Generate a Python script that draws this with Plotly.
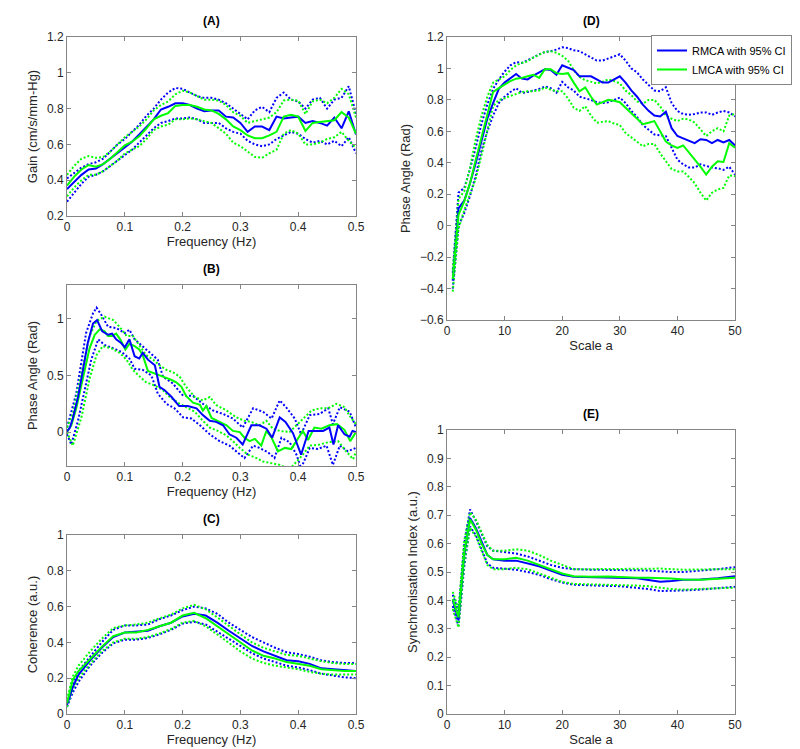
import plotly.graph_objects as go

# ---- panel A : gain vs frequency ----
freq_a = [0, 0.0125, 0.025, 0.0375, 0.05, 0.0625, 0.075, 0.0875, 0.1, 0.1125, 0.125, 0.1375, 0.15, 0.1625,
          0.175, 0.1875, 0.2, 0.2125, 0.225, 0.2375, 0.25, 0.2625, 0.275, 0.2875, 0.3, 0.3125, 0.325, 0.3375,
          0.35, 0.3625, 0.375, 0.3875, 0.4, 0.4125, 0.425, 0.4375, 0.45, 0.4625, 0.475, 0.4875, 0.5]
gain_r = [0.35, 0.39, 0.43, 0.46, 0.465, 0.49, 0.52, 0.55, 0.585, 0.615, 0.655, 0.695, 0.74, 0.795, 0.81, 0.83,
          0.83, 0.82, 0.80, 0.785, 0.79, 0.79, 0.755, 0.75, 0.72, 0.67, 0.70, 0.70, 0.68, 0.755, 0.745, 0.75,
          0.755, 0.72, 0.73, 0.72, 0.705, 0.75, 0.69, 0.785, 0.655]
gain_l = [0.37, 0.42, 0.46, 0.485, 0.475, 0.49, 0.52, 0.555, 0.595, 0.615, 0.645, 0.69, 0.74, 0.76, 0.775, 0.815,
          0.82, 0.82, 0.81, 0.795, 0.79, 0.77, 0.74, 0.70, 0.68, 0.65, 0.635, 0.635, 0.65, 0.67, 0.755, 0.765,
          0.755, 0.675, 0.72, 0.725, 0.73, 0.735, 0.78, 0.75, 0.66]
gain_r_hi = [0.41, 0.44, 0.47, 0.49, 0.50, 0.52, 0.56, 0.60, 0.63, 0.67, 0.71, 0.76, 0.80, 0.85, 0.89, 0.915,
             0.91, 0.89, 0.87, 0.86, 0.86, 0.85, 0.83, 0.80, 0.77, 0.74, 0.79, 0.81, 0.78, 0.86, 0.89, 0.85,
             0.84, 0.80, 0.85, 0.86, 0.80, 0.85, 0.86, 0.925, 0.77]
gain_r_lo = [0.28, 0.33, 0.38, 0.42, 0.43, 0.45, 0.48, 0.51, 0.54, 0.57, 0.61, 0.65, 0.69, 0.72, 0.73, 0.745,
             0.745, 0.75, 0.74, 0.72, 0.72, 0.72, 0.69, 0.67, 0.66, 0.62, 0.60, 0.59, 0.60, 0.63, 0.65, 0.67,
             0.66, 0.63, 0.61, 0.62, 0.60, 0.62, 0.59, 0.64, 0.55]
gain_l_hi = [0.43, 0.48, 0.52, 0.535, 0.525, 0.53, 0.56, 0.60, 0.64, 0.67, 0.70, 0.74, 0.79, 0.82, 0.84, 0.88,
             0.90, 0.89, 0.87, 0.85, 0.85, 0.845, 0.82, 0.78, 0.76, 0.72, 0.73, 0.74, 0.75, 0.78, 0.845, 0.85,
             0.845, 0.77, 0.84, 0.85, 0.83, 0.86, 0.91, 0.88, 0.75]
gain_l_lo = [0.31, 0.36, 0.40, 0.43, 0.43, 0.45, 0.48, 0.51, 0.55, 0.57, 0.59, 0.63, 0.68, 0.70, 0.71, 0.74,
             0.74, 0.745, 0.74, 0.73, 0.72, 0.69, 0.66, 0.61, 0.59, 0.56, 0.53, 0.525, 0.55, 0.57, 0.66, 0.68,
             0.66, 0.60, 0.60, 0.61, 0.63, 0.64, 0.67, 0.62, 0.58]

# ---- panel B : phase vs frequency ----
freq_b_r = [0, 0.005, 0.010, 0.019, 0.028, 0.036, 0.045, 0.052, 0.061, 0.071, 0.078, 0.085, 0.093, 0.100, 0.108,
            0.117, 0.125, 0.131, 0.140, 0.152, 0.160, 0.169, 0.181, 0.194, 0.209, 0.224, 0.235, 0.247, 0.258,
            0.270, 0.281, 0.293, 0.304, 0.319, 0.333, 0.345, 0.355, 0.368, 0.378, 0.391, 0.405, 0.418, 0.431,
            0.443, 0.454, 0.461, 0.469, 0.480, 0.489, 0.494, 0.5]
phase_r = [0.005, 0.04, 0.12, 0.31, 0.56, 0.79, 0.96, 0.99, 0.89, 0.86, 0.87, 0.82, 0.79, 0.75, 0.82, 0.67, 0.65,
           0.70, 0.64, 0.59, 0.40, 0.37, 0.31, 0.23, 0.23, 0.21, 0.15, 0.10, 0.09, 0.06, -0.02, -0.05, -0.11,
           0.06, 0.06, 0.03, -0.05, 0.13, 0.09, -0.01, -0.20, 0.01, 0.01, 0.01, 0.04, -0.11, 0.06, -0.02, -0.04,
           0.01, 0.0]
freq_b_l = [0, 0.0075, 0.016, 0.028, 0.039, 0.048, 0.057, 0.065, 0.071, 0.078, 0.085, 0.092, 0.101, 0.108, 0.117,
            0.125, 0.131, 0.140, 0.152, 0.166, 0.181, 0.189, 0.198, 0.206, 0.218, 0.230, 0.235, 0.241, 0.250,
            0.261, 0.276, 0.287, 0.299, 0.307, 0.316, 0.325, 0.336, 0.345, 0.354, 0.365, 0.377, 0.388, 0.397,
            0.408, 0.417, 0.428, 0.440, 0.454, 0.467, 0.480, 0.490, 0.5]
phase_l = [0.0, 0.06, 0.21, 0.49, 0.74, 0.86, 0.91, 0.89, 0.85, 0.85, 0.87, 0.82, 0.73, 0.78, 0.76, 0.73, 0.68,
           0.54, 0.52, 0.49, 0.46, 0.44, 0.40, 0.32, 0.26, 0.24, 0.19, 0.23, 0.125, 0.10, 0.06, 0.01, 0.0, -0.05,
           -0.08, -0.06, -0.12, 0.01, -0.05, -0.17, -0.14, -0.15, -0.08, 0.01, -0.07, 0.04, 0.03, 0.06, 0.07,
           0.02, -0.08, 0.0]
freq_b_r_hi = [0, 0.016, 0.033, 0.045, 0.051, 0.059, 0.071, 0.085, 0.100, 0.108, 0.117, 0.131, 0.143, 0.157,
               0.166, 0.183, 0.201, 0.218, 0.235, 0.253, 0.270, 0.287, 0.304, 0.322, 0.339, 0.354, 0.368, 0.379,
               0.394, 0.405, 0.420, 0.437, 0.452, 0.460, 0.472, 0.489, 0.5]
phase_r_hi = [0.04, 0.34, 0.875, 1.05, 1.10, 1.04, 0.93, 0.92, 0.875, 0.905, 0.82, 0.76, 0.70, 0.64, 0.49, 0.43,
              0.32, 0.32, 0.25, 0.19, 0.16, 0.12, 0.04, 0.21, 0.18, 0.12, 0.28, 0.22, 0.12, -0.02, 0.15, 0.16,
              0.21, 0.07, 0.22, 0.18, 0.04]
freq_b_r_lo = [0, 0.0075, 0.019, 0.031, 0.042, 0.054, 0.065, 0.080, 0.094, 0.108, 0.117, 0.131, 0.146, 0.157,
               0.172, 0.186, 0.201, 0.215, 0.230, 0.247, 0.264, 0.281, 0.293, 0.307, 0.322, 0.333, 0.348, 0.359,
               0.371, 0.385, 0.397, 0.405, 0.420, 0.434, 0.449, 0.460, 0.472, 0.486, 0.5]
phase_r_lo = [-0.02, -0.11, 0.10, 0.37, 0.64, 0.82, 0.77, 0.74, 0.71, 0.65, 0.56, 0.55, 0.50, 0.34, 0.25, 0.21,
              0.13, 0.12, 0.06, -0.02, -0.08, -0.12, -0.17, -0.23, -0.12, -0.14, -0.18, -0.23, -0.05, -0.09,
              -0.20, -0.32, -0.14, -0.15, -0.12, -0.29, -0.12, -0.17, -0.14]
freq_b_l_hi = [0, 0.010, 0.025, 0.039, 0.051, 0.065, 0.080, 0.091, 0.103, 0.114, 0.126, 0.137, 0.149, 0.160,
               0.172, 0.183, 0.195, 0.206, 0.221, 0.235, 0.247, 0.258, 0.276, 0.293, 0.307, 0.319, 0.333, 0.345,
               0.356, 0.368, 0.385, 0.397, 0.408, 0.423, 0.437, 0.452, 0.466, 0.480, 0.492, 0.5]
phase_l_hi = [0.04, 0.16, 0.52, 0.85, 0.98, 1.02, 0.99, 0.93, 0.85, 0.85, 0.76, 0.68, 0.64, 0.59, 0.55, 0.53,
              0.49, 0.40, 0.31, 0.28, 0.31, 0.24, 0.19, 0.13, 0.10, 0.09, 0.06, 0.10, 0.03, 0.01, 0.0, 0.06, 0.12,
              0.19, 0.21, 0.21, 0.25, 0.22, 0.12, 0.07]
freq_b_l_lo = [0, 0.010, 0.025, 0.039, 0.051, 0.062, 0.077, 0.091, 0.103, 0.114, 0.126, 0.137, 0.152, 0.166,
               0.178, 0.195, 0.206, 0.221, 0.235, 0.247, 0.261, 0.276, 0.287, 0.299, 0.313, 0.328, 0.339, 0.351,
               0.368, 0.385, 0.397, 0.408, 0.420, 0.437, 0.452, 0.469, 0.483, 0.495, 0.5]
phase_l_lo = [0.0, -0.12, 0.13, 0.47, 0.68, 0.76, 0.74, 0.70, 0.64, 0.55, 0.49, 0.44, 0.41, 0.37, 0.31, 0.25,
              0.22, 0.18, 0.10, 0.04, 0.01, -0.03, -0.08, -0.14, -0.20, -0.23, -0.26, -0.27, -0.29, -0.33, -0.26,
              -0.20, -0.12, -0.11, -0.09, -0.08, -0.17, -0.24, -0.17]

# ---- panel C : coherence vs frequency ----
freq_c = [0, 0.01, 0.02, 0.04, 0.06, 0.08, 0.1, 0.12, 0.14, 0.16, 0.18, 0.2, 0.22, 0.24, 0.26, 0.28, 0.3, 0.32,
          0.34, 0.36, 0.38, 0.4, 0.42, 0.44, 0.46, 0.48, 0.5]
coh_r = [0.05, 0.15, 0.22, 0.30, 0.37, 0.43, 0.455, 0.46, 0.465, 0.49, 0.51, 0.545, 0.56, 0.55, 0.51, 0.465, 0.42,
         0.38, 0.35, 0.325, 0.30, 0.295, 0.28, 0.255, 0.25, 0.245, 0.24]
coh_l = [0.06, 0.19, 0.24, 0.31, 0.375, 0.435, 0.455, 0.455, 0.47, 0.49, 0.51, 0.55, 0.565, 0.535, 0.49, 0.445,
         0.40, 0.355, 0.325, 0.31, 0.29, 0.28, 0.27, 0.25, 0.245, 0.24, 0.24]
coh_r_hi = [0.06, 0.17, 0.24, 0.32, 0.40, 0.47, 0.495, 0.495, 0.50, 0.53, 0.55, 0.58, 0.60, 0.59, 0.56, 0.51, 0.47,
            0.43, 0.40, 0.37, 0.345, 0.335, 0.32, 0.30, 0.29, 0.285, 0.285]
coh_l_hi = [0.08, 0.21, 0.27, 0.35, 0.42, 0.48, 0.495, 0.50, 0.51, 0.535, 0.555, 0.59, 0.61, 0.585, 0.54, 0.49,
            0.445, 0.40, 0.37, 0.35, 0.33, 0.325, 0.31, 0.295, 0.285, 0.28, 0.28]
coh_r_lo = [0.04, 0.12, 0.18, 0.27, 0.34, 0.395, 0.415, 0.415, 0.425, 0.445, 0.47, 0.505, 0.515, 0.50, 0.46, 0.42,
            0.38, 0.34, 0.31, 0.29, 0.27, 0.26, 0.245, 0.225, 0.215, 0.205, 0.20]
coh_l_lo = [0.04, 0.14, 0.20, 0.28, 0.35, 0.40, 0.42, 0.42, 0.43, 0.45, 0.475, 0.51, 0.52, 0.49, 0.445, 0.395,
            0.35, 0.31, 0.285, 0.27, 0.26, 0.25, 0.235, 0.225, 0.22, 0.22, 0.22]

# ---- panel D : phase vs scale ----
scale_d = list(range(1, 51))
phd_r = [-0.35, 0.11, 0.16, 0.27, 0.40, 0.55, 0.68, 0.78, 0.87, 0.91, 0.935, 0.965, 0.935, 0.93, 0.955, 0.975,
         0.995, 0.99, 0.96, 1.02, 1.005, 0.99, 0.95, 0.95, 0.95, 0.93, 0.91, 0.91, 0.93, 0.95, 0.91, 0.86, 0.82,
         0.77, 0.73, 0.70, 0.695, 0.725, 0.62, 0.57, 0.555, 0.54, 0.525, 0.55, 0.545, 0.525, 0.545, 0.53, 0.545,
         0.51]
phd_l = [-0.34, 0.07, 0.155, 0.27, 0.42, 0.57, 0.70, 0.85, 0.875, 0.90, 0.92, 0.935, 0.94, 0.95, 0.96, 0.94,
         0.995, 0.995, 0.97, 0.965, 0.97, 0.91, 0.855, 0.88, 0.82, 0.77, 0.785, 0.80, 0.795, 0.785, 0.75, 0.715,
         0.68, 0.645, 0.655, 0.665, 0.60, 0.535, 0.51, 0.495, 0.51, 0.465, 0.425, 0.375, 0.325, 0.375, 0.41,
         0.405, 0.525, 0.495]
phd_r_hi = [-0.30, 0.21, 0.24, 0.36, 0.50, 0.65, 0.77, 0.87, 0.93, 0.98, 1.02, 1.04, 1.035, 1.05, 1.07, 1.09,
            1.105, 1.11, 1.12, 1.135, 1.13, 1.115, 1.11, 1.09, 1.07, 1.05, 1.05, 1.065, 1.075, 1.09, 1.05, 1.00,
            0.975, 0.93, 0.895, 0.86, 0.855, 0.88, 0.78, 0.73, 0.71, 0.705, 0.71, 0.72, 0.72, 0.705, 0.72, 0.73,
            0.72, 0.695]
phd_r_lo = [-0.40, 0.0, 0.08, 0.19, 0.32, 0.48, 0.60, 0.70, 0.78, 0.82, 0.85, 0.875, 0.845, 0.85, 0.86, 0.87,
            0.885, 0.875, 0.845, 0.915, 0.88, 0.86, 0.82, 0.81, 0.80, 0.785, 0.78, 0.785, 0.80, 0.815, 0.78, 0.73,
            0.69, 0.64, 0.61, 0.58, 0.575, 0.57, 0.495, 0.42, 0.39, 0.37, 0.37, 0.39, 0.38, 0.37, 0.365, 0.355,
            0.375, 0.325]
phd_l_hi = [-0.28, 0.17, 0.22, 0.37, 0.55, 0.70, 0.82, 0.91, 0.93, 0.95, 0.99, 1.02, 1.035, 1.045, 1.07, 1.09,
            1.105, 1.11, 1.10, 1.08, 1.05, 0.99, 0.945, 0.925, 0.915, 0.905, 0.915, 0.93, 0.92, 0.905, 0.86, 0.83,
            0.79, 0.775, 0.80, 0.80, 0.76, 0.70, 0.68, 0.665, 0.68, 0.675, 0.655, 0.61, 0.57, 0.60, 0.62, 0.60,
            0.70, 0.71]
phd_l_lo = [-0.42, -0.02, 0.10, 0.20, 0.30, 0.45, 0.60, 0.76, 0.80, 0.81, 0.825, 0.84, 0.85, 0.855, 0.855, 0.86,
            0.88, 0.865, 0.855, 0.855, 0.81, 0.75, 0.73, 0.76, 0.70, 0.655, 0.66, 0.665, 0.65, 0.64, 0.59, 0.56,
            0.53, 0.505, 0.52, 0.52, 0.46, 0.41, 0.36, 0.345, 0.345, 0.31, 0.27, 0.21, 0.16, 0.21, 0.23, 0.24,
            0.32, 0.315]

# ---- panel E : synchronisation index vs scale ----
scale_e = [1, 2, 3, 4, 5, 6, 7, 8, 10, 12, 14, 16, 18, 20, 22, 25, 28, 30, 33, 35, 37, 39, 41, 44, 47, 50]
si_r = [0.40, 0.33, 0.56, 0.69, 0.655, 0.61, 0.56, 0.545, 0.54, 0.54, 0.53, 0.52, 0.505, 0.49, 0.483, 0.482,
        0.481, 0.48, 0.478, 0.472, 0.466, 0.468, 0.473, 0.474, 0.478, 0.485]
si_l = [0.405, 0.34, 0.57, 0.685, 0.65, 0.60, 0.56, 0.545, 0.545, 0.55, 0.54, 0.525, 0.51, 0.495, 0.485, 0.483,
        0.484, 0.482, 0.48, 0.48, 0.479, 0.477, 0.474, 0.473, 0.476, 0.48]
si_r_hi = [0.42, 0.36, 0.60, 0.72, 0.68, 0.635, 0.59, 0.575, 0.57, 0.565, 0.555, 0.54, 0.525, 0.515, 0.51, 0.508,
           0.508, 0.508, 0.506, 0.505, 0.502, 0.50, 0.50, 0.504, 0.51, 0.517]
si_l_hi = [0.43, 0.37, 0.61, 0.71, 0.685, 0.64, 0.595, 0.575, 0.575, 0.58, 0.575, 0.56, 0.54, 0.525, 0.51, 0.51,
           0.511, 0.512, 0.513, 0.513, 0.512, 0.51, 0.508, 0.509, 0.51, 0.51]
si_r_lo = [0.38, 0.31, 0.52, 0.66, 0.63, 0.58, 0.53, 0.515, 0.512, 0.508, 0.50, 0.49, 0.475, 0.463, 0.455, 0.452,
           0.451, 0.45, 0.445, 0.44, 0.433, 0.433, 0.435, 0.438, 0.442, 0.448]
si_l_lo = [0.37, 0.305, 0.53, 0.655, 0.625, 0.575, 0.525, 0.51, 0.51, 0.515, 0.51, 0.495, 0.48, 0.465, 0.458,
           0.457, 0.456, 0.455, 0.452, 0.45, 0.444, 0.44, 0.438, 0.44, 0.443, 0.445]

BLUE = "#0000ff"
GREEN = "#00ff00"
FONT = "Liberation Sans"

fig = go.Figure()


def add_panel(n, ci, main, legend=False):
    xa = "x" if n == 1 else "x%d" % n
    ya = "y" if n == 1 else "y%d" % n
    # dotted confidence bounds first, then solid means on top
    for x, y, col in ci:
        fig.add_trace(go.Scatter(x=x, y=y, mode="lines", xaxis=xa, yaxis=ya, showlegend=False,
                                 line=dict(color=col, width=2, dash="2px,2px"), hoverinfo="skip"))
    for x, y, col, name in main:
        fig.add_trace(go.Scatter(x=x, y=y, mode="lines", xaxis=xa, yaxis=ya, name=name, showlegend=legend,
                                 line=dict(color=col, width=2)))


add_panel(1,
          [(freq_a, gain_r_hi, BLUE), (freq_a, gain_r_lo, BLUE), (freq_a, gain_l_hi, GREEN), (freq_a, gain_l_lo, GREEN)],
          [(freq_a, gain_r, BLUE, "RMCA"), (freq_a, gain_l, GREEN, "LMCA")])
add_panel(2,
          [(freq_b_r_hi, phase_r_hi, BLUE), (freq_b_r_lo, phase_r_lo, BLUE),
           (freq_b_l_hi, phase_l_hi, GREEN), (freq_b_l_lo, phase_l_lo, GREEN)],
          [(freq_b_l, phase_l, GREEN, "LMCA"), (freq_b_r, phase_r, BLUE, "RMCA")])
add_panel(3,
          [(freq_c, coh_r_hi, BLUE), (freq_c, coh_r_lo, BLUE), (freq_c, coh_l_hi, GREEN), (freq_c, coh_l_lo, GREEN)],
          [(freq_c, coh_r, BLUE, "RMCA"), (freq_c, coh_l, GREEN, "LMCA")])
add_panel(4,
          [(scale_d, phd_r_hi, BLUE), (scale_d, phd_r_lo, BLUE), (scale_d, phd_l_hi, GREEN), (scale_d, phd_l_lo, GREEN)],
          [(scale_d, phd_r, BLUE, "RMCA with 95% CI"), (scale_d, phd_l, GREEN, "LMCA with 95% CI")], legend=True)
add_panel(5,
          [(scale_e, si_r_hi, BLUE), (scale_e, si_r_lo, BLUE), (scale_e, si_l_hi, GREEN), (scale_e, si_l_lo, GREEN)],
          [(scale_e, si_r, BLUE, "RMCA"), (scale_e, si_l, GREEN, "LMCA")])

W, H = 800, 749
# plot boxes in pixels (left, right, top, bottom)
boxes = {1: (59, 348, 29, 208), 2: (59, 348, 277, 458), 3: (59, 348, 527, 706),
         4: (439, 727, 29, 312), 5: (439, 727, 422, 706)}

axis_style = dict(showline=True, linecolor="#858585", linewidth=1, mirror="ticks", ticks="inside", ticklen=4,
                  tickcolor="#858585", showgrid=False, zeroline=False, automargin=False,
                  tickfont=dict(family=FONT, size=12, color="#262626"),
                  title_font=dict(family=FONT, size=13, color="#262626"))

xcfg = {1: ([0, 0.5], 0.1, "Frequency (Hz)"), 2: ([0, 0.5], 0.1, "Frequency (Hz)"),
        3: ([0, 0.5], 0.1, "Frequency (Hz)"), 4: ([0, 50], 10, "Scale a"), 5: ([0, 50], 10, "Scale a")}
ycfg = {1: ([0.2, 1.2], 0.2, "Gain (cm/s/mm-Hg)"), 2: ([-0.3, 1.3], 0.5, "Phase Angle (Rad)"),
        3: ([0, 1], 0.2, "Coherence (a.u.)"), 4: ([-0.6, 1.2], 0.2, "Phase Angle (Rad)"),
        5: ([0, 1], 0.1, "Synchronisation Index (a.u.)")}
ytick0 = {1: 0.2, 2: 0, 3: 0, 4: -0.6, 5: 0}
titles = {1: "(A)", 2: "(B)", 3: "(C)", 4: "(D)", 5: "(E)"}

layout = {}
annotations = []
for n, (l, r, t, b) in boxes.items():
    sx = "" if n == 1 else str(n)
    xr, xd, xt = xcfg[n]
    yr, yd, yt = ycfg[n]
    layout["xaxis" + sx] = dict(axis_style, domain=[l / W, r / W], anchor="y" + sx, range=xr,
                                tick0=0, dtick=xd, title=dict(text=xt, standoff=0))
    layout["yaxis" + sx] = dict(axis_style, domain=[1 - b / H, 1 - t / H], anchor="x" + sx, range=yr,
                                tick0=ytick0[n], dtick=yd, title=dict(text=yt, standoff=6))
    annotations.append(dict(text="<b>%s</b>" % titles[n], x=(l + r) / 2 / W, y=1 - t / H, xref="paper",
                            yref="paper", xanchor="center", yanchor="bottom", yshift=7, showarrow=False,
                            font=dict(family=FONT, size=12, color="#000000")))

fig.update_layout(**layout)
fig.update_layout(
    width=W, height=H,
    margin=dict(l=0, r=0, t=0, b=0),
    plot_bgcolor="white", paper_bgcolor="white",
    annotations=annotations,
    showlegend=True,
    legend=dict(x=643 / W, y=1 - 27 / H, xanchor="left", yanchor="top", bgcolor="white",
                bordercolor="#858585", borderwidth=1, font=dict(family=FONT, size=11, color="#000000"),
                tracegroupgap=0, itemwidth=30),
)

fig.write_html("out.html")
